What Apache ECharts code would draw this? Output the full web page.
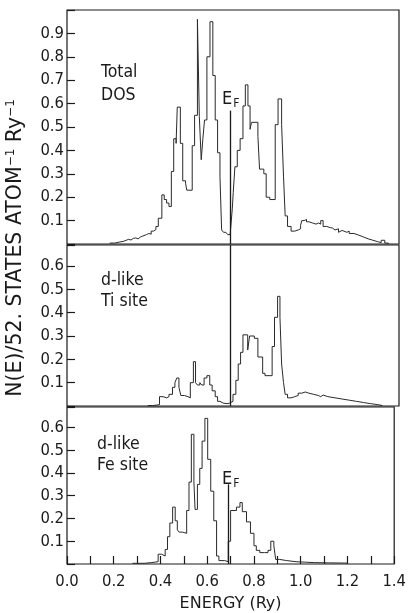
<!DOCTYPE html>
<html>
<head>
<meta charset="utf-8">
<script src="https://cdn.jsdelivr.net/npm/echarts@6/dist/echarts.min.js"></script>
<style>
html,body{margin:0;padding:0;background:#fff;}
#chart{width:409px;height:613px;}
</style>
</head>
<body>
<div id="chart"></div>
<script>
// Energy axis (Ry) and tick labels
var xTickLabels = ['0.0','0.2','0.4','0.6','0.8','1.0','1.2','1.4'];
var fermiEnergy = 0.69;

// Total DOS (step histogram: value holds from energy[i] to energy[i+1])
var totalEnergy = [0.18,0.20,0.22,0.24,0.25,0.26,0.27,0.28,0.29,0.30,0.31,0.32,0.325,0.335,0.345,0.355,0.365,0.375,0.385,0.40,0.41,0.42,0.43,0.44,0.45,0.46,0.465,0.478,0.488,0.50,0.505,0.528,0.538,0.55,0.558,0.566,0.573,0.58,0.59,0.603,0.615,0.625,0.635,0.645,0.652,0.66,0.67,0.678,0.688,0.692,0.697,0.701,0.708,0.718,0.73,0.742,0.752,0.763,0.772,0.778,0.805,0.812,0.83,0.84,0.855,0.878,0.89,0.905,0.913,0.92,0.93,0.945,0.96,0.975,0.985,0.99,1.0,1.01,1.02,1.035,1.05,1.06,1.07,1.08,1.095,1.11,1.12,1.13,1.145,1.15,1.16,1.18,1.19,1.21,1.23,1.25,1.27,1.29,1.31,1.325,1.34,1.355];
var totalDos    = [0.004,0.008,0.012,0.016,0.02,0.017,0.024,0.026,0.022,0.03,0.034,0.03,0.04,0.045,0.042,0.055,0.062,0.075,0.11,0.21,0.19,0.175,0.16,0.31,0.45,0.43,0.585,0.43,0.27,0.26,0.23,0.42,0.55,0.96,0.545,0.36,0.45,0.53,0.80,0.95,0.72,0.53,0.39,0.29,0.06,0.05,0.055,0.04,0.045,0.09,0.15,0.22,0.33,0.40,0.45,0.59,0.68,0.59,0.49,0.52,0.46,0.32,0.30,0.20,0.19,0.51,0.62,0.51,0.29,0.12,0.075,0.055,0.06,0.065,0.08,0.10,0.105,0.095,0.09,0.085,0.09,0.085,0.10,0.075,0.07,0.068,0.06,0.065,0.05,0.058,0.05,0.055,0.045,0.038,0.03,0.022,0.016,0.01,0.006,0.016,0.004,0];

// d-like DOS, Ti site
var tiEnergy = [0.34,0.36,0.38,0.39,0.405,0.42,0.43,0.445,0.455,0.463,0.472,0.48,0.495,0.51,0.52,0.533,0.542,0.55,0.56,0.568,0.578,0.59,0.602,0.612,0.625,0.635,0.645,0.66,0.675,0.685,0.70,0.712,0.722,0.732,0.742,0.762,0.77,0.79,0.805,0.825,0.835,0.865,0.875,0.888,0.898,0.905,0.913,0.92,0.93,0.945,0.96,0.975,0.99,1.005,1.02,1.04,1.06,1.07,1.08,1.10,1.13,1.16,1.19,1.22,1.25,1.28,1.31,1.33];
var tiDos    = [0.002,0.004,0.006,0.04,0.035,0.04,0.05,0.08,0.10,0.12,0.08,0.045,0.04,0.035,0.10,0.19,0.10,0.09,0.10,0.09,0.12,0.13,0.09,0.065,0.04,0.02,0.012,0.01,0.012,0.02,0.05,0.11,0.18,0.23,0.305,0.24,0.30,0.29,0.21,0.14,0.13,0.255,0.38,0.47,0.38,0.18,0.10,0.05,0.035,0.04,0.045,0.055,0.06,0.055,0.05,0.045,0.04,0.047,0.04,0.035,0.03,0.025,0.02,0.015,0.01,0.006,0.002,0];

// d-like DOS, Fe site
var feEnergy = [0.28,0.33,0.36,0.39,0.405,0.42,0.43,0.44,0.452,0.463,0.472,0.48,0.495,0.512,0.522,0.532,0.543,0.548,0.558,0.568,0.578,0.59,0.602,0.615,0.628,0.64,0.65,0.675,0.69,0.70,0.725,0.74,0.75,0.768,0.785,0.80,0.81,0.825,0.845,0.86,0.872,0.885,0.893,0.91,0.94,0.98,1.02,1.06,1.12,1.20];
var feDos    = [0.003,0.006,0.01,0.043,0.035,0.064,0.12,0.18,0.25,0.19,0.15,0.14,0.135,0.235,0.36,0.57,0.36,0.24,0.35,0.42,0.54,0.64,0.46,0.32,0.19,0.035,0.015,0.01,0.10,0.235,0.25,0.27,0.23,0.185,0.135,0.08,0.06,0.05,0.05,0.06,0.10,0.08,0.02,0.015,0.01,0.008,0.006,0.005,0.004,0];

var fermiTop = [0.57, 0.69, 0.35];

function pairs(e, v){ return e.map(function(x,i){ return [x, v[i]]; }); }

var chart = echarts.init(document.getElementById('chart'), null, {renderer:'canvas'});
var FONT = 'DejaVu Sans Condensed';
var INK = '#1a1a1a';

var grids = [
  {left:67, right:10, top:10, height:234},
  {left:67, right:10, top:245, height:161},
  {left:67, right:10, top:407, height:161}
];
grids.forEach(function(g){ g.show = true; g.borderColor = INK; g.borderWidth = 1.2; g.backgroundColor='transparent'; });

function xAx(i, last){
  return {
    type:'value', gridIndex:i, min:0, max:1.4, interval:0.1,
    axisLine:{show:false},
    axisTick:{show:last, inside:true, length:8, lineStyle:{color:INK, width:1.2}},
    splitLine:{show:false},
    axisLabel:{show:last, margin:9, color:INK, fontFamily:FONT, fontSize:16.5,
      formatter:function(v){ var k=Math.round(v*10); return (k%2===0) ? xTickLabels[k/2] : ''; }},
    name: last ? 'ENERGY (Ry)' : '',
    nameLocation:'middle', nameGap:32,
    nameTextStyle:{fontFamily:'DejaVu Sans', fontSize:16, color:INK}
  };
}
function yAx(i, max){
  return {
    type:'value', gridIndex:i, min:0, max:max, interval:0.1,
    axisLine:{show:false},
    axisTick:{show:true, inside:true, length:8, lineStyle:{color:INK, width:1.2}},
    splitLine:{show:false},
    axisLabel:{margin:3, color:INK, fontFamily:FONT, fontSize:16.5,
      formatter:function(v){ var k=Math.round(v*10); if (Math.abs(v*10-k)>1e-6 || k<1 || k>9) return ''; return (k/10).toFixed(1); }}
  };
}

function dosSeries(i, data){
  return {
    type:'line', xAxisIndex:i, yAxisIndex:i, step:'end', symbol:'none',
    data:data, lineStyle:{color:'#2a2a2a', width:1}, silent:true, animation:false,
    markLine:{
      silent:true, symbol:['none','none'], animation:false,
      label:{show:false},
      lineStyle:{color:INK, width:1.3, type:'solid'},
      data:[[{coord:[fermiEnergy,0]},{coord:[fermiEnergy,fermiTop[i]]}]]
    }
  };
}

chart.setOption({
  animation:false,
  grid:grids,
  xAxis:[xAx(0,false), xAx(1,false), xAx(2,true)],
  yAxis:[yAx(0,1.0), yAx(1,0.69), yAx(2,0.69)],
  series:[
    dosSeries(0, pairs(totalEnergy, totalDos)),
    dosSeries(1, pairs(tiEnergy, tiDos)),
    dosSeries(2, pairs(feEnergy, feDos))
  ],
  graphic:[
    {type:'text', left:101, top:61, style:{text:'Total\nDOS', font:'17.5px "'+FONT+'"', fill:INK, lineHeight:23}},
    {type:'text', left:101, top:270, style:{text:'d-like\nTi site', font:'17.5px "'+FONT+'"', fill:INK, lineHeight:21}},
    {type:'text', left:97, top:434, style:{text:'d-like\nFe site', font:'17.5px "'+FONT+'"', fill:INK, lineHeight:21}},
    {type:'text', left:222, top:90, style:{text:'{e|E}{f|F}', rich:{e:{font:'18px "'+FONT+'"', fill:INK}, f:{font:'12px "'+FONT+'"', fill:INK, padding:[10,0,0,1]}}}},
    {type:'text', left:222, top:470, style:{text:'{e|E}{f|F}', rich:{e:{font:'18px "'+FONT+'"', fill:INK}, f:{font:'12px "'+FONT+'"', fill:INK, padding:[10,0,0,1]}}}},
    {type:'text', x:16, y:248, rotation:Math.PI/2,
      style:{text:'{m|N(E)/52. STATES ATOM}{s|−1}{m| Ry}{s|−1}', align:'center', verticalAlign:'middle',
        rich:{m:{font:'20.5px "DejaVu Sans"', fill:INK}, s:{font:'12px "DejaVu Sans"', fill:INK, padding:[0,0,10,0]}}}}
  ]
});
</script>
</body>
</html>
